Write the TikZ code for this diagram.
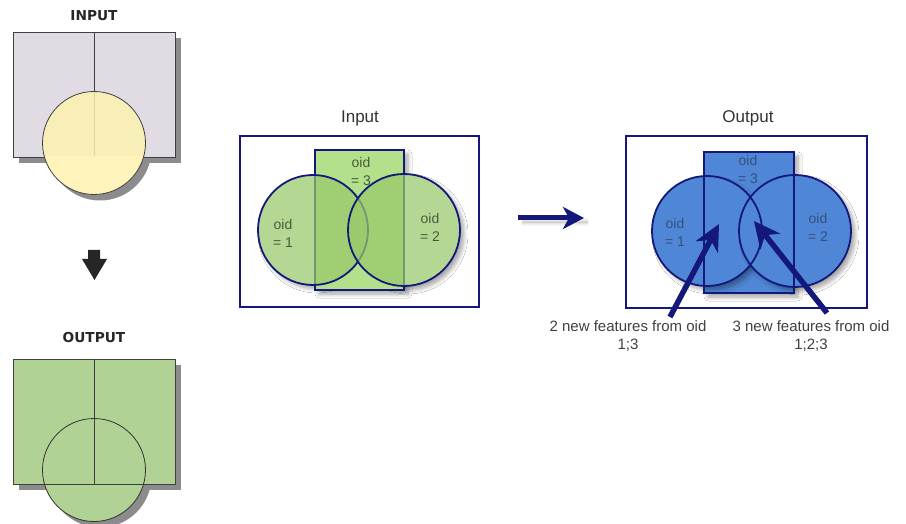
\documentclass[tikz,border=0pt]{standalone}
\usepackage{fontspec}
\setmainfont{Liberation Sans}
\newfontfamily\headfont{DejaVu Sans}
\usetikzlibrary{arrows.meta,shadows.blur}

\definecolor{navy}{HTML}{14187A}
\definecolor{lavender}{HTML}{E1DBE4}
\definecolor{paleyellow}{HTML}{FDF2B0}
\definecolor{sagegreen}{HTML}{B0D395}
\definecolor{limegreen}{HTML}{B3E08A}
\definecolor{blobgreen}{HTML}{98C96A}
\definecolor{blobblue}{HTML}{4F87D6}
\definecolor{txtgray}{HTML}{404040}
\definecolor{greentxt}{HTML}{4A5A3C}
\definecolor{bluetxt}{HTML}{34507E}

\tikzset{
  hardshadow/.style={fill=black!45},
  boxline/.style={draw=black!75, line width=0.9pt},
  headlabel/.style={font=\headfont\bfseries\fontsize{13.7}{16}\selectfont, text=black!85},
  paneltitle/.style={font=\fontsize{17}{20}\selectfont, text=black!80},
  frame/.style={draw=navy, line width=2pt, fill=white},
  softshadow/.style={blur shadow={shadow xshift=4pt, shadow yshift=-4pt,
      shadow blur steps=6, shadow blur radius=4pt, shadow opacity=35}},
  blob/.style={draw=navy, line width=1.8pt},
  oidtext/.style={align=center, font=\fontsize{14}{18}\selectfont},
  note/.style={align=center, font=\fontsize{15}{18}\selectfont, text=txtgray},
  bigarrow/.style={draw=navy, line width=5.5pt,
      -{Stealth[length=26pt, width=25pt, inset=8pt]}},
}

\begin{document}
\begin{tikzpicture}[x=1pt, y=-1pt]
\useasboundingbox (0,0) rectangle (906,524);

% ---------- schematic: input polygons ----------
\node[headlabel] (inlabel) at (94,16) {INPUT};
\fill[hardshadow] (19,38) rectangle (181,163);
\fill[hardshadow] (100,149) circle (51.5);
\filldraw[fill=lavender, boxline] (13,32) rectangle (175,157);
\draw[boxline] (94,32) -- (94,157);
% white backing for the part of the circle outside the square
\begin{scope}
  \clip (0,157) rectangle (200,210);
  \fill[white] (94,143) circle (51.5);
\end{scope}
\filldraw[fill=paleyellow, fill opacity=0.85, draw=black!75, line width=0.8pt]
  (94,143) circle (51.5);

% down arrow between the two schematics
\fill[black!85] (88,250) -- (100,250) -- (100,259) -- (107,259)
  -- (94.5,280) -- (82,259) -- (88,259) -- cycle;

% ---------- schematic: output polygons ----------
\node[headlabel] (outlabel) at (94,338) {OUTPUT};
\fill[hardshadow] (19,365) rectangle (181,490);
\fill[hardshadow] (100,476) circle (51.5);
\fill[sagegreen] (13,359) rectangle (175,484);
\fill[sagegreen] (94,470) circle (51.5);
\draw[boxline] (13,359) rectangle (175,484);
\draw[boxline] (94,359) -- (94,484);
\draw[draw=black!80, line width=0.8pt] (94,470) circle (51.5);

% ---------- Input panel ----------
\node[paneltitle] (intitle) at (360,118) {Input};
\draw[frame] (240,136) rectangle (479,307);
% shadows first, then an opaque backing so the shadows stay outside
\path[softshadow] (315,150) rectangle (404,290);
\path[softshadow] (313,230) circle (55);
\path[softshadow] (404,230) circle (56);
\fill[white] (313,230) circle (55);
\fill[white] (404,230) circle (56);
\filldraw[fill=limegreen, blob] (315,150) rectangle (404,290);
\filldraw[fill=blobgreen, fill opacity=0.72, blob] (313,230) circle (55);
\filldraw[fill=blobgreen, fill opacity=0.72, blob] (404,230) circle (56);
\node[oidtext, text=greentxt] (in3) at (361,171) {oid\\= 3};
\node[oidtext, text=greentxt] (in1) at (283,233) {oid\\= 1};
\node[oidtext, text=greentxt] (in2) at (430,227) {oid\\= 2};

% arrow from input to output
\coordinate (flowstart) at (518,218);
\coordinate (flowend) at (584,218);
\draw[navy, line width=5pt, -{Stealth[length=21pt, width=22pt, inset=6pt]}, softshadow]
  (flowstart) -- (flowend);

% ---------- Output panel ----------
\node[paneltitle] (outtitle) at (748,118) {Output};
\draw[frame] (626,136) rectangle (867,308);
\fill[blobblue, softshadow] (704,152) rectangle (794,293);
\fill[blobblue, softshadow] (707,231) circle (55);
\fill[blobblue, softshadow] (795,231) circle (56);
\draw[blob] (704,152) rectangle (794,293);
\draw[blob] (707,231) circle (55);
\draw[blob] (795,231) circle (56);
\node[oidtext, text=bluetxt] (out3) at (748,169) {oid\\= 3};
\node[oidtext, text=bluetxt] (out1) at (675,232) {oid\\= 1};
\node[oidtext, text=bluetxt] (out2) at (818,227) {oid\\= 2};

% pointers to the new features
\node[note] (note13) at (628,336) {2 new features from oid\\1;3};
\node[note] (note123) at (811,336) {3 new features from oid\\1;2;3};
\coordinate (tip13) at (719,224);
\coordinate (tip123) at (754,221);
\coordinate (base13) at (670,317);
\coordinate (base123) at (827,313);
\draw[bigarrow] (base13) -- (tip13);
\draw[bigarrow] (base123) -- (tip123);
\end{tikzpicture}
\end{document}
